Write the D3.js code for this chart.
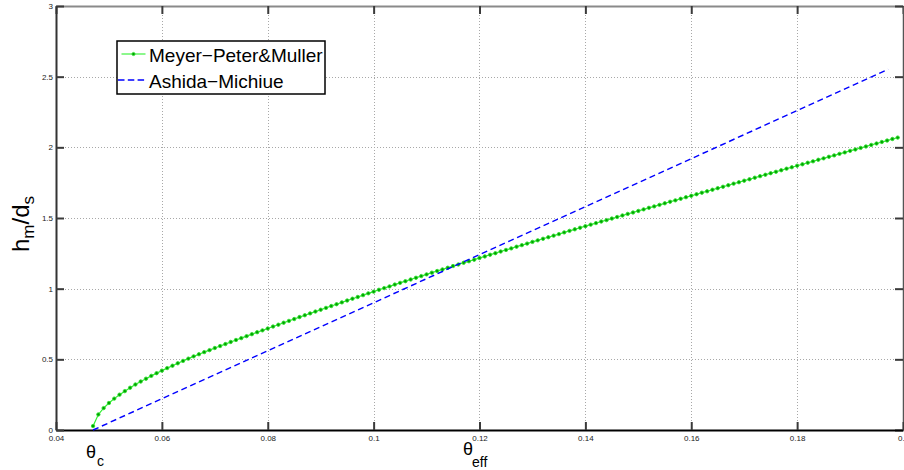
<!DOCTYPE html>
<html>
<head>
<meta charset="utf-8">
<script src="https://cdn.jsdelivr.net/npm/d3@7/dist/d3.min.js"></script>
<style>
  html, body { margin: 0; padding: 0; background: #fff; }
  svg { display: block; font-family: "Liberation Sans", Arial, Helvetica, sans-serif; }
</style>
</head>
<body>
<svg id="chart" width="904" height="470"></svg>
<script>
// Meyer-Peter & Muller: relative dune height against effective Shields stress
const thetaMPM = [
  0.047, 0.048, 0.049, 0.050, 0.051, 0.052, 0.053, 0.054, 0.055, 0.056,
  0.057, 0.058, 0.059, 0.060, 0.061, 0.062, 0.063, 0.064, 0.065, 0.066,
  0.067, 0.068, 0.069, 0.070, 0.071, 0.072, 0.073, 0.074, 0.075, 0.076,
  0.077, 0.078, 0.079, 0.080,
  0.081, 0.082, 0.083, 0.084, 0.085, 0.086, 0.087, 0.088, 0.089, 0.090,
  0.091, 0.092, 0.093, 0.094, 0.095, 0.096, 0.097, 0.098, 0.099, 0.100,
  0.101, 0.102, 0.103, 0.104, 0.105, 0.106, 0.107, 0.108, 0.109, 0.110,
  0.111, 0.112, 0.113, 0.114, 0.115, 0.116, 0.117, 0.118, 0.119, 0.120,
  0.121, 0.122, 0.123, 0.124, 0.125, 0.126, 0.127, 0.128, 0.129, 0.130,
  0.131, 0.132, 0.133, 0.134, 0.135, 0.136, 0.137, 0.138, 0.139, 0.140,
  0.141, 0.142, 0.143, 0.144, 0.145, 0.146, 0.147, 0.148, 0.149, 0.150,
  0.151, 0.152, 0.153, 0.154, 0.155, 0.156, 0.157, 0.158, 0.159, 0.160,
  0.161, 0.162, 0.163, 0.164, 0.165, 0.166, 0.167, 0.168, 0.169, 0.170,
  0.171, 0.172, 0.173, 0.174, 0.175, 0.176, 0.177, 0.178, 0.179, 0.180,
  0.181, 0.182, 0.183, 0.184, 0.185, 0.186, 0.187, 0.188, 0.189, 0.190,
  0.191, 0.192, 0.193, 0.194, 0.195, 0.196, 0.197, 0.198, 0.199
];
const hMPM = [
  0.028, 0.110, 0.155, 0.191, 0.222, 0.250, 0.275, 0.299, 0.322, 0.343,
  0.363, 0.383, 0.402, 0.420, 0.438, 0.455, 0.472, 0.489, 0.505, 0.521,
  0.536, 0.551, 0.565, 0.580, 0.594, 0.608, 0.623, 0.637, 0.650, 0.664,
  0.678, 0.692, 0.705, 0.718,
  0.732, 0.745, 0.759, 0.772, 0.785, 0.799, 0.812, 0.825, 0.838, 0.851,
  0.864, 0.877, 0.890, 0.903, 0.916, 0.929, 0.941, 0.954, 0.967, 0.979,
  0.992, 1.004, 1.016, 1.029, 1.041, 1.053, 1.065, 1.077, 1.089, 1.101,
  1.113, 1.125, 1.136, 1.148, 1.160, 1.171, 1.183, 1.194, 1.205, 1.217,
  1.228, 1.240, 1.251, 1.263, 1.274, 1.285, 1.297, 1.308, 1.319, 1.331,
  1.342, 1.353, 1.364, 1.375, 1.386, 1.398, 1.409, 1.420, 1.431, 1.442,
  1.453, 1.464, 1.475, 1.485, 1.496, 1.507, 1.518, 1.529, 1.539, 1.550,
  1.561, 1.572, 1.582, 1.593, 1.604, 1.615, 1.625, 1.636, 1.647, 1.657,
  1.668, 1.679, 1.689, 1.700, 1.711, 1.721, 1.732, 1.743, 1.753, 1.764,
  1.774, 1.785, 1.796, 1.806, 1.817, 1.827, 1.838, 1.849, 1.859, 1.870,
  1.880, 1.891, 1.901, 1.912, 1.922, 1.933, 1.943, 1.954, 1.964, 1.975,
  1.985, 1.996, 2.006, 2.017, 2.027, 2.038, 2.048, 2.059, 2.069
];

// Ashida-Michiue: straight line from the critical stress
const thetaAM = [0.047, 0.1972];
const hAM = [0.0, 2.552];

const xTicks = [0.04, 0.06, 0.08, 0.10, 0.12, 0.14, 0.16, 0.18, 0.20];
const xTickLabels = ["0.04", "0.06", "0.08", "0.1", "0.12", "0.14", "0.16", "0.18", "0.2"];
const yTicks = [0, 0.5, 1, 1.5, 2, 2.5, 3];
const yTickLabels = ["0", "0.5", "1", "1.5", "2", "2.5", "3"];
const seriesNames = ["Meyer\u2212Peter&Muller", "Ashida\u2212Michiue"];

const svg = d3.select("#chart");
const L = 56, R = 903, T = 6, B = 430;

const x = d3.scaleLinear().domain([0.04, 0.2]).range([L, R]);
const y = d3.scaleLinear().domain([0, 3]).range([B, T]);

// dotted grid at interior ticks
const grid = svg.append("g").attr("stroke", "#a8a8a8").attr("stroke-width", 1)
  .attr("stroke-dasharray", "1,2").attr("fill", "none");
grid.selectAll("line.gx").data(xTicks.slice(1, -1)).join("line")
  .attr("x1", d => Math.round(x(d)) + 0.5).attr("x2", d => Math.round(x(d)) + 0.5)
  .attr("y1", T).attr("y2", B);
grid.selectAll("line.gy").data(yTicks.slice(1, -1)).join("line")
  .attr("y1", d => Math.round(y(d)) + 0.5).attr("y2", d => Math.round(y(d)) + 0.5)
  .attr("x1", L).attr("x2", R);

// axes with inward ticks on all four sides
function styleAxis(g, domainColor, domainWidth) {
  g.select(".domain").attr("stroke", domainColor).attr("stroke-width", domainWidth);
  g.selectAll(".tick line").attr("stroke", "#3a3a3a").attr("stroke-width", 2);
  g.selectAll(".tick text").attr("fill", "#222").attr("font-size", "8px")
    .attr("font-family", "'Liberation Sans', Arial, Helvetica, sans-serif");
}

const gTop = svg.append("g").attr("transform", `translate(0,${T})`)
  .call(d3.axisTop(x).tickValues(xTicks).tickFormat("").tickSizeInner(-8).tickSizeOuter(0));
styleAxis(gTop, "#8a8a8a", 2);

const gRight = svg.append("g").attr("transform", `translate(${R},0)`)
  .call(d3.axisRight(y).tickValues(yTicks).tickFormat("").tickSizeInner(-8).tickSizeOuter(0));
styleAxis(gRight, "#555", 1.5);

const gBottom = svg.append("g").attr("transform", `translate(0,${B})`)
  .call(d3.axisBottom(x).tickValues(xTicks).tickFormat((d, i) => xTickLabels[i])
    .tickSizeInner(-8).tickSizeOuter(0).tickPadding(5));
styleAxis(gBottom, "#000", 2);

const gLeft = svg.append("g").attr("transform", `translate(${L},0)`)
  .call(d3.axisLeft(y).tickValues(yTicks).tickFormat((d, i) => yTickLabels[i])
    .tickSizeInner(-8).tickSizeOuter(0).tickPadding(3));
styleAxis(gLeft, "#333", 2);

// Meyer-Peter & Muller: thin green line with dot markers
const mpm = thetaMPM.map((t, i) => [t, hMPM[i]]);
const lineGen = d3.line().x(d => x(d[0])).y(d => y(d[1]));
svg.append("path").datum(mpm).attr("d", lineGen)
  .attr("fill", "none").attr("stroke", "#2ef02e").attr("stroke-width", 1.2);
svg.append("g").selectAll("circle").data(mpm).join("circle")
  .attr("cx", d => x(d[0])).attr("cy", d => y(d[1])).attr("r", 1.7)
  .attr("fill", "#00a000").attr("stroke", "#30e030").attr("stroke-width", 0.9);

// Ashida-Michiue: blue dashed line
const am = thetaAM.map((t, i) => [t, hAM[i]]);
svg.append("path").datum(am).attr("d", lineGen)
  .attr("fill", "none").attr("stroke", "#0000ff").attr("stroke-width", 1.4)
  .attr("stroke-dasharray", "6,3.7");

// legend
const leg = svg.append("g");
leg.append("rect").attr("x", 117).attr("y", 41).attr("width", 208).attr("height", 53)
  .attr("fill", "#fff").attr("stroke", "#000").attr("stroke-width", 1.5);
leg.append("line").attr("x1", 121.5).attr("x2", 145.5).attr("y1", 54).attr("y2", 54)
  .attr("stroke", "#2ef02e").attr("stroke-width", 1.1);
leg.append("circle").attr("cx", 133.5).attr("cy", 54).attr("r", 1.6)
  .attr("fill", "#00a000").attr("stroke", "#30e030").attr("stroke-width", 0.8);
leg.append("line").attr("x1", 118).attr("x2", 146).attr("y1", 80).attr("y2", 80)
  .attr("stroke", "#0000ff").attr("stroke-width", 1.4).attr("stroke-dasharray", "6.5,3.3");
leg.selectAll("text").data(seriesNames).join("text")
  .attr("x", 149).attr("y", (d, i) => 61.5 + i * 26)
  .attr("font-size", "19px").attr("fill", "#000").text(d => d);

// y-axis title h_m/d_s
const yt = svg.append("text").attr("transform", "translate(29,224) rotate(-90)")
  .attr("text-anchor", "middle").attr("font-size", "24px").attr("fill", "#000");
yt.append("tspan").text("h");
yt.append("tspan").attr("font-size", "17px").attr("dy", 5).text("m");
yt.append("tspan").attr("dy", -5).text("/d");
yt.append("tspan").attr("font-size", "17px").attr("dy", 5).text("s");

// x-axis labels: critical and effective Shields stress
const tc = svg.append("text").attr("x", 86).attr("y", 458)
  .attr("font-size", "18px").attr("fill", "#000");
tc.append("tspan").text("\u03b8");
tc.append("tspan").attr("font-size", "14px").attr("x", 97).attr("dy", 8).text("c");

const te = svg.append("text").attr("x", 463).attr("y", 455)
  .attr("font-size", "18px").attr("fill", "#000");
te.append("tspan").text("\u03b8");
te.append("tspan").attr("font-size", "14px").attr("x", 472).attr("dy", 12).text("eff");
</script>
</body>
</html>
